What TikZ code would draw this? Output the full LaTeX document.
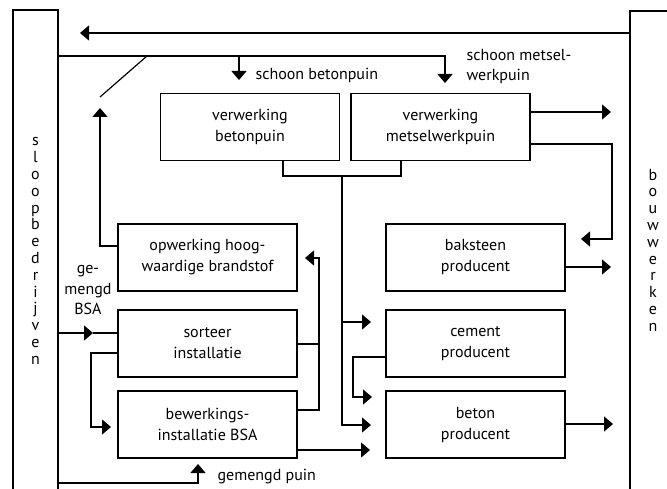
\documentclass[tikz,border=0pt]{standalone}
\usepackage{fontspec}
\setmainfont{PT Sans}
\usetikzlibrary{arrows.meta}
\begin{document}
\begin{tikzpicture}[x=1pt,y=-1pt,
  line width=1.2pt,
  box/.style={draw, minimum width=179pt, minimum height=67pt, align=center,
    font=\fontsize{16}{21}\selectfont, inner sep=0pt},
  lbl/.style={font=\fontsize{16}{20}\selectfont, inner sep=0pt, align=left},
  vtxt/.style={font=\fontsize{16}{16.8}\selectfont, inner sep=0pt, align=center},
  arr/.style={-{Triangle[length=9pt,width=15pt]}},
]
\useasboundingbox (0,0) rectangle (667,489);
% columns
\coordinate (lcA) at (13,489);
\coordinate (lcB) at (13,10);
\coordinate (lcC) at (58,10);
\coordinate (lcD) at (58,489);
\draw (lcA) -- (lcB) -- (lcC) -- (lcD);
\coordinate (rcA) at (630,489);
\coordinate (rcB) at (630,11);
\coordinate (rcC) at (667,11);
\draw (rcA) -- (rcB) -- (rcC);
\node[vtxt] (slp) at (35.5,251) {s\\l\\o\\o\\p\\b\\e\\d\\r\\i\\j\\v\\e\\n};
\node[vtxt] (bw) at (653,250) {b\\o\\u\\w\\w\\e\\r\\k\\e\\n};
% boxes
\node[box] (vb) at (250,127) {verwerking\\betonpuin};
\node[box] (vm) at (440.5,127) {verwerking\\metselwerkpuin};
\node[box] (opw) at (207.5,257.5) {opwerking hoog-\\waardige brandstof};
\node[box] (sort) at (207.5,343.5) {sorteer\\installatie};
\node[box] (bew) at (207.5,424.5) {bewerkings-\\installatie BSA};
\node[box] (bak) at (475.5,257.5) {baksteen\\producent};
\node[box] (cem) at (475.5,343.5) {cement\\producent};
\node[box] (bet) at (475.5,424.5) {beton\\producent};
% labels
\node[lbl, anchor=west] (l1) at (255,75) {schoon betonpuin};
\node[lbl, anchor=west] (l2) at (466,67) {schoon metsel-\\werkpuin};
\node[lbl, align=center] (l3) at (88,290) {ge-\\mengd\\BSA};
\node[lbl, anchor=west] (l4) at (217,477) {gemengd puin};
% top arrow
\coordinate (t1) at (630,33);
\coordinate (t2) at (80,33);
\draw[arr] (t1) -- (t2);
% clean line
\coordinate (c0) at (58,56);
\coordinate (c1) at (445,56);
\coordinate (c2) at (445,83);
\coordinate (c3) at (239,56);
\coordinate (c4) at (239,80);
\draw[arr] (c0) -- (c1) -- (c2);
\draw[arr] (c3) -- (c4);
% diagonal switch
\coordinate (d1) at (147,56);
\coordinate (d2) at (100,97);
\draw (d1) -- (d2);
\coordinate (o1) at (100,246);
\coordinate (o2) at (100,108);
\draw[arr] (opw.west |- o1) -- (o1) -- (o2);
% metselwerkpuin outputs
\coordinate (m1) at (611,112);
\draw[arr] (vm.east |- m1) -- (m1);
\coordinate (m2) at (612,144);
\coordinate (m3) at (612,239);
\coordinate (m4) at (581,239);
\draw[arr] (vm.east |- m2) -- (m2) -- (m3) -- (m4);
% collector below top boxes
\coordinate (j1) at (283,176);
\coordinate (j2) at (401,176);
\draw (vb.south -| j1) -- (j1) -- (j2) -- (vm.south -| j2);
\coordinate (j3) at (342,176);
\coordinate (j4) at (342,425);
\coordinate (j5) at (371,425);
\draw[arr] (j3) -- (j4) -- (j5);
\coordinate (j6) at (342,322);
\coordinate (j7) at (371,322);
\draw[arr] (j6) -- (j7);
% outputs to bouwwerken
\coordinate (b1) at (611,267);
\draw[arr] (bak.east |- b1) -- (b1);
\coordinate (b2) at (613,424);
\draw[arr] (bet.east |- b2) -- (b2);
% cement -> beton
\coordinate (e1) at (353,357);
\coordinate (e2) at (353,397);
\coordinate (e3) at (372,397);
\draw[arr] (cem.west |- e1) -- (e1) -- (e2) -- (e3);
% bewerkings -> beton
\coordinate (f1) at (370,450);
\draw[arr] (bew.east |- f1) -- (f1);
% sorteer/bewerkings -> opwerking
\coordinate (g1) at (319,344);
\coordinate (g2) at (319,410);
\coordinate (g3) at (319,258);
\coordinate (g4) at (305,258);
\draw (sort.east |- g1) -- (g1);
\draw[arr] (bew.east |- g2) -- (g2) -- (g3) -- (g4);
% sloop -> sorteer
\coordinate (h1) at (58,333);
\coordinate (h2) at (93,333);
\draw[arr] (h1) -- (h2);
\draw (h2) -- (sort.west |- h2);
% sorteer -> bewerkings
\coordinate (k1) at (91,353);
\coordinate (k2) at (91,427);
\coordinate (k3) at (111,427);
\draw[arr] (sort.west |- k1) -- (k1) -- (k2) -- (k3);
% gemengd puin
\coordinate (p1) at (58,483);
\coordinate (p2) at (198,483);
\coordinate (p3) at (198,464);
\draw[arr] (p1) -- (p2) -- (p3);
\end{tikzpicture}
\end{document}
